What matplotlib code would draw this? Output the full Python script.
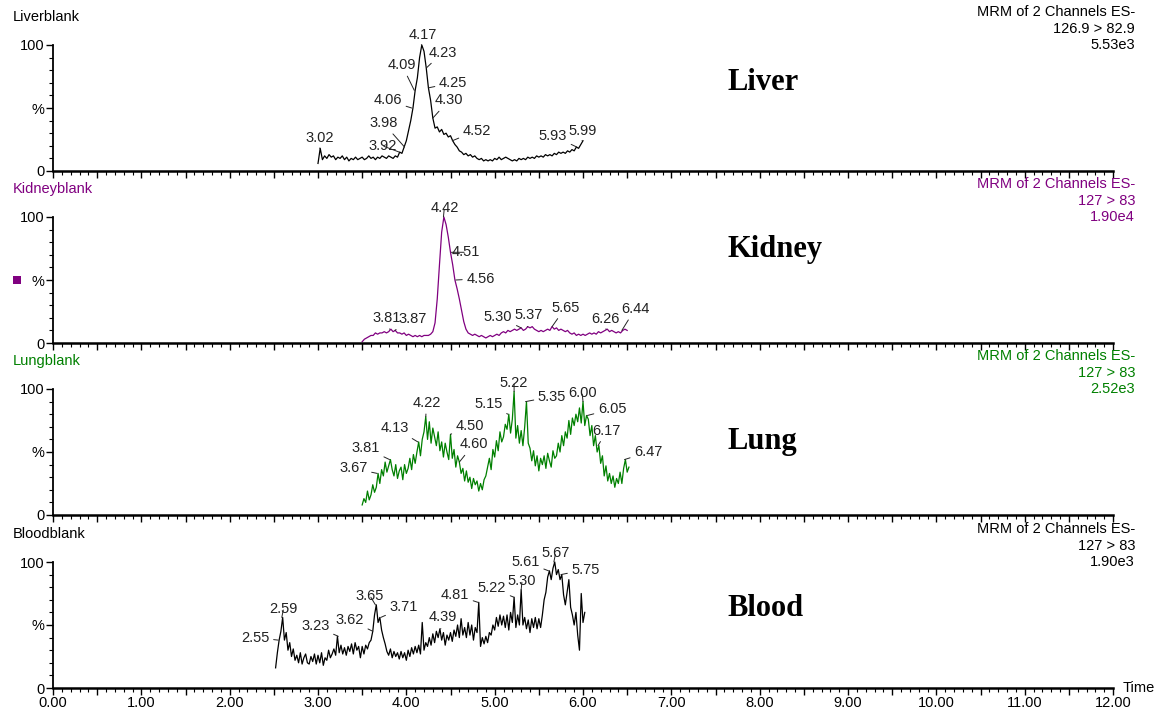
import numpy as np
import matplotlib
matplotlib.use("Agg")
import matplotlib.pyplot as plt
from matplotlib.ticker import MultipleLocator, FixedLocator, FuncFormatter
from matplotlib.patches import Rectangle

plt.rcParams['font.family'] = ['Liberation Sans', 'DejaVu Sans']

W, H = 1164, 714

# ------------------------------------------------------------------
# Chromatogram data (% of base peak)
# each trace: start time, sampling step, values
# ------------------------------------------------------------------
liver_t0, liver_dt = 3.00, 0.025
liver_y = [
    6, 18, 9, 12, 10, 13, 11, 12, 9, 11,         # 3.00
    10, 12, 9, 11, 8, 10, 9, 11, 9, 10,          # 3.25
    11, 9, 10, 12, 10, 11, 9, 11, 10, 12,        # 3.50
    11, 10, 12, 11, 10, 12, 11, 15, 14, 19,      # 3.75
    24, 32, 40, 50, 64, 74, 90, 100, 95, 82,     # 4.00
    66, 56, 42, 34, 35, 31, 33, 29, 30, 27,      # 4.25
    28, 24, 21, 19, 16, 15, 13, 14, 12, 13,      # 4.50
    11, 12, 10, 9, 10, 8, 9, 8, 9, 8,            # 4.75
    10, 9, 11, 9, 10, 11, 10, 9, 8, 9,           # 5.00
    8, 10, 9, 10, 9, 11, 10, 11, 10, 12,         # 5.25
    11, 12, 11, 13, 12, 13, 12, 14, 13, 15,      # 5.50
    14, 15, 14, 16, 15, 17, 16, 19, 18, 21,      # 5.75
    24,                                          # 6.00
]

kidney_t0, kidney_dt = 3.50, 0.025
kidney_y = [
    1, 3, 4, 5, 6, 6, 8, 7, 8, 8,                # 3.50
    9, 8, 9, 11, 9, 10, 8, 8, 7, 8,              # 3.75
    6, 7, 6, 5, 6, 5, 6, 5, 6, 6,                # 4.00
    6, 7, 9, 16, 35, 62, 88, 100, 94, 84,        # 4.25
    72, 62, 50, 43, 35, 26, 17, 11, 8, 7,        # 4.50
    6, 7, 6, 5, 6, 5, 4, 5, 6, 5,                # 4.75
    6, 7, 6, 8, 9, 8, 10, 9, 10, 11,             # 5.00
    10, 11, 12, 10, 11, 13, 12, 13, 11, 10,      # 5.25
    9, 10, 9, 10, 11, 10, 13, 11, 12, 10,        # 5.50
    11, 10, 9, 10, 8, 7, 8, 6, 7, 6,             # 5.75
    7, 6, 7, 8, 7, 8, 7, 9, 8, 9,                # 6.00
    10, 11, 9, 10, 9, 8, 9, 8, 10, 11,           # 6.25
    10,                                          # 6.50
]

lung_t0, lung_dt = 3.50, 0.02
lung_y = [
    8, 13, 10, 19, 12, 16, 24, 18, 22, 33,       # 3.50
    25, 36, 31, 42, 34, 39, 44, 36, 31, 40,      # 3.70
    29, 35, 38, 28, 40, 33, 37, 45, 36, 48,      # 3.90
    41, 50, 58, 47, 60, 66, 78, 60, 74, 57,      # 4.10
    69, 62, 55, 66, 51, 58, 46, 57, 50, 44,      # 4.30
    64, 45, 52, 38, 47, 42, 33, 37, 27, 35,      # 4.50
    26, 30, 21, 29, 24, 27, 19, 25, 20, 28,      # 4.70
    31, 38, 45, 36, 52, 46, 59, 51, 66, 58,      # 4.90
    62, 72, 68, 80, 65, 76, 98, 61, 71, 57,      # 5.10
    67, 55, 70, 90, 57, 53, 43, 51, 39, 47,      # 5.30
    35, 45, 40, 47, 37, 49, 43, 38, 51, 45,      # 5.50
    47, 57, 50, 63, 55, 66, 61, 75, 64, 77,      # 5.70
    71, 80, 74, 85, 73, 90, 71, 79, 76, 63,      # 5.90
    71, 55, 63, 50, 55, 41, 47, 31, 39, 27,      # 6.10
    33, 25, 31, 22, 29, 25, 34, 25, 37, 44,      # 6.30
    34, 38,                                      # 6.50
]

blood_t0, blood_dt = 2.52, 0.02
blood_y = [
    16, 28, 38, 45, 56, 38, 44, 30, 36, 25,      # 2.52
    31, 22, 26, 20, 28, 19, 24, 27, 20, 19,      # 2.72
    25, 21, 27, 19, 26, 20, 28, 18, 24, 22,      # 2.92
    30, 24, 27, 31, 26, 41, 28, 34, 27, 32,      # 3.12
    26, 33, 29, 35, 27, 36, 30, 33, 24, 33,      # 3.32
    27, 34, 31, 36, 38, 45, 58, 66, 52, 56,      # 3.52
    46, 40, 35, 29, 26, 31, 24, 29, 25, 28,      # 3.72
    23, 29, 24, 28, 22, 30, 25, 32, 27, 33,      # 3.92
    28, 34, 27, 52, 30, 36, 33, 40, 34, 43,      # 4.12
    36, 45, 40, 47, 38, 44, 34, 42, 38, 44,      # 4.32
    37, 46, 41, 50, 40, 55, 42, 48, 40, 52,      # 4.52
    42, 50, 38, 48, 44, 68, 33, 40, 35, 41,      # 4.72
    36, 44, 42, 50, 46, 56, 49, 58, 50, 57,      # 4.92
    48, 58, 46, 60, 52, 72, 48, 58, 50, 78,      # 5.12
    50, 56, 47, 54, 44, 55, 48, 56, 47, 55,      # 5.32
    48, 58, 70, 76, 88, 93, 86, 95, 100, 90,     # 5.52
    94, 86, 90, 74, 66, 76, 86, 64, 58, 50,      # 5.72
    60, 42, 30, 75, 52, 60,                      # 5.92
]

# labelled retention times
liver_rt = ["3.02", "3.92", "3.98", "4.06", "4.09", "4.17", "4.23", "4.25",
            "4.30", "4.52", "5.93", "5.99"]
kidney_rt = ["3.81", "3.87", "4.42", "4.51", "4.56", "5.30", "5.37", "5.65",
             "6.26", "6.44"]
lung_rt = ["3.67", "3.81", "4.13", "4.22", "4.50", "4.60", "5.15", "5.22",
           "5.35", "6.00", "6.05", "6.17", "6.47"]
blood_rt = ["2.55", "2.59", "3.23", "3.62", "3.65", "3.71", "4.39", "4.81",
            "5.22", "5.30", "5.61", "5.67", "5.75"]

titles = ["Liverblank", "Kidneyblank", "Lungblank", "Bloodblank"]
channels = ["126.9 > 82.9", "127 > 83", "127 > 83", "127 > 83"]
scales = ["5.53e3", "1.90e4", "2.52e3", "1.90e3"]
tissues = ["Liver", "Kidney", "Lung", "Blood"]

# ------------------------------------------------------------------
# layout (label text positions in data units: time, %)
# ------------------------------------------------------------------
liver_txt = [(3.02, 26), (3.73, 20), (3.74, 38), (3.79, 56), (3.95, 84),
             (4.19, 108), (4.41, 94), (4.53, 70), (4.48, 56), (4.80, 32),
             (5.66, 28), (6.00, 32)]
kidney_txt = [(3.78, 20), (4.07, 19), (4.43, 107), (4.67, 72), (4.84, 51),
              (5.04, 21), (5.38, 22), (5.80, 28), (6.25, 19), (6.59, 27)]
lung_txt = [(3.40, 37), (3.54, 53), (3.87, 69), (4.23, 89), (4.72, 71),
            (4.76, 56), (4.93, 88), (5.22, 105), (5.65, 94), (5.99, 97),
            (6.33, 84), (6.27, 67), (6.74, 50)]
blood_txt = [(2.29, 40), (2.61, 63), (2.97, 49), (3.36, 54), (3.59, 73),
             (3.97, 64), (4.41, 56), (4.55, 74), (4.97, 79), (5.31, 85),
             (5.35, 100), (5.69, 107), (6.03, 94)]

PURPLE = "#800080"
GREEN = "#008000"
colors = ["black", PURPLE, GREEN, "black"]

panel_top = [45, 217, 389, 562]       # pixel row of the 100 % tick
panel_h = 126
tissue_y = [83, 250, 442, 609]
FS = 10.5

traces = [
    (liver_t0, liver_dt, liver_y, liver_rt, liver_txt),
    (kidney_t0, kidney_dt, kidney_y, kidney_rt, kidney_txt),
    (lung_t0, lung_dt, lung_y, lung_rt, lung_txt),
    (blood_t0, blood_dt, blood_y, blood_rt, blood_txt),
]

fig = plt.figure(figsize=(W / 100, H / 100), dpi=100, facecolor="white")


def fy(py):
    return 1 - py / H


for i, (t0, dt, yv, rts, txt) in enumerate(traces):
    yv = np.array(yv, dtype=float)
    t = t0 + dt * np.arange(len(yv))
    top = panel_top[i]
    ax = fig.add_axes([53 / W, fy(top + panel_h), 1060 / W, panel_h / H])
    ax.plot(t, yv, color=colors[i], lw=0.9, clip_on=False)

    for rt, (tx, ty) in zip(rts, txt):
        r = float(rt)
        near = np.abs(t - r) <= 0.65 * dt
        yp = yv[near].max() if near.any() else np.interp(r, t, yv)
        ax.annotate(rt, xy=(r, yp), xytext=(tx, ty), ha="center", va="center",
                    fontsize=FS, color="#222222", annotation_clip=False,
                    arrowprops=dict(arrowstyle="-", color="#222222", lw=0.7,
                                    shrinkA=1, shrinkB=0))

    ax.set_xlim(0, 12)
    ax.set_ylim(0, 100)
    for s in ("top", "right"):
        ax.spines[s].set_visible(False)
    ax.spines["left"].set_linewidth(1.3)
    ax.spines["bottom"].set_linewidth(1.8)

    ax.xaxis.set_major_locator(MultipleLocator(0.5))
    ax.xaxis.set_minor_locator(MultipleLocator(0.1))
    ax.yaxis.set_major_locator(FixedLocator([0, 50, 100]))
    ax.yaxis.set_minor_locator(MultipleLocator(10))
    ax.yaxis.set_major_formatter(FuncFormatter(
        lambda v, p: {0: "0", 50: "%", 100: "100"}.get(int(round(v)), "")))
    if i == 3:
        ax.xaxis.set_major_formatter(FuncFormatter(
            lambda v, p: f"{v:.2f}" if abs(v - round(v)) < 1e-6 else ""))
    else:
        ax.xaxis.set_major_formatter(FuncFormatter(lambda v, p: ""))
    ax.tick_params(axis="x", which="major", length=5, width=1, labelsize=FS, pad=1)
    ax.tick_params(axis="x", which="minor", length=3, width=0.8)
    ax.tick_params(axis="y", which="major", length=5, width=1, labelsize=FS, pad=1)
    ax.tick_params(axis="y", which="minor", length=3, width=0.8)
    ax.patch.set_alpha(0)

    # panel headers
    fig.text(13 / W, fy(top - 28), titles[i], fontsize=FS, color=colors[i],
             ha="left", va="center")
    for k, line in enumerate(["MRM of 2 Channels ES-", channels[i], scales[i]]):
        fig.text(1135 / W, fy(top - 33 + 16.7 * k), line, fontsize=FS,
                 color=colors[i], ha="right", va="center")
    fig.text(727 / W, fy(tissue_y[i]), tissues[i], fontsize=22, fontweight="bold",
             family="Liberation Serif", color="black", ha="left", va="center")

fig.text(1123 / W, fy(688), "Time", fontsize=FS, ha="left", va="center")
fig.patches.append(Rectangle((13 / W, fy(284)), 8 / W, 8 / H, transform=fig.transFigure,
                             facecolor=PURPLE, edgecolor="none"))

fig.savefig("out.png", dpi=100, facecolor="white")
